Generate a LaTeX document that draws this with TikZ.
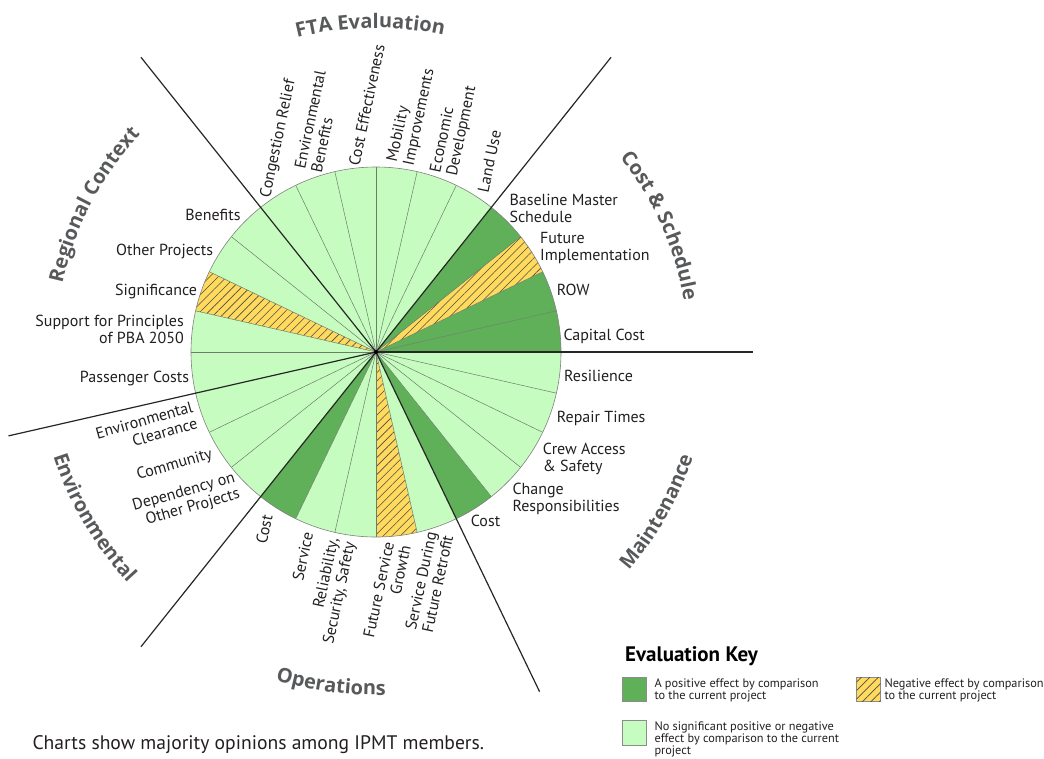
\documentclass[tikz,border=0pt]{standalone}
\usepackage{fontspec}
\setmainfont{PT Sans}
\newfontfamily\titlefam{Open Sans}
\usetikzlibrary{patterns.meta,decorations.text}
\definecolor{lightg}{RGB}{199,252,192}
\definecolor{darkg}{RGB}{95,176,89}
\definecolor{yellowc}{RGB}{255,218,92}
\definecolor{titlegray}{RGB}{88,89,91}
\definecolor{ink}{RGB}{35,31,32}
\definecolor{sepgray}{RGB}{105,125,105}
\newcommand\ttlfont{\titlefam\fontsize{20}{24}\selectfont\bfseries}
\begin{document}
\begin{tikzpicture}[x=1pt,y=1pt,
  wpos/.style={fill=darkg},
  wneu/.style={fill=lightg},
  wneg/.style={fill=yellowc,postaction={pattern={Lines[angle=45,distance=6pt,line width=0.6pt]},pattern color=black!70}},
  wsep/.style={draw=sepgray,line width=0.5pt},
  rim/.style={draw=black!50,line width=0.6pt},
  divider/.style={draw=black!85,line width=1.2pt},
  lab/.style={font=\fontsize{16}{17}\selectfont,text=ink,inner sep=0pt},
  labR/.style={lab,anchor=base west,align=left},
  labL/.style={lab,anchor=base east,align=right},
  ftalab/.style={lab,anchor=base west,align=left,rotate=78},
  opslab/.style={lab,anchor=base east,align=right,rotate=78},
  envlab/.style={lab,anchor=base east,align=right,rotate=16},
  grouptitle/.style={decorate,decoration={text along path,text align=center,text color=titlegray}},
  leg/.style={font=\fontsize{12.3}{11.8}\selectfont,text=ink,inner sep=0pt,align=left,anchor=base west},
  keybox/.style={draw=black!45,line width=0.5pt}
]
\useasboundingbox (0,0) rectangle (1044,-758);
\coordinate (C) at (376,-352);
\def\W{12.857142857}
% wedges
\foreach \s [count=\i from 0] in {wpos,wpos,wneg,wpos,wneu,wneu,wneu,wneu,wneu,wneu,wneu,wneu,wneg,wneu,wneu,wneu,wneu,wneu,wpos,wneu,wneu,wneg,wneu,wpos,wneu,wneu,wneu,wneu}{
  \path[\s] (C) -- ++({\i*\W}:185) arc[start angle={\i*\W},end angle={(\i+1)*\W},radius=185] -- cycle;
}
\foreach \i in {1,2,3,5,6,7,8,9,11,12,13,14,16,17,19,20,21,22,24,25,26,27}{
  \draw[wsep] (C) -- ++({\i*\W}:185);
}
\draw[rim] (C) circle[radius=185];
\foreach \i in {0,4,10,15,18,23}{
  \draw[divider] (C) -- ++({\i*\W}:377);
}
\fill[black] (C) circle[radius=2];
% group titles
\path[grouptitle,decoration={text={|\ttlfont|FTA Evaluation}}] (C) ++(121:324) arc[start angle=121,end angle=61,radius=324];
\path[grouptitle,decoration={text={|\ttlfont|Cost {\&} Schedule}}] (C) ++(54:312) arc[start angle=54,end angle=-6,radius=312];
\path[grouptitle,decoration={text={|\ttlfont|Regional Context}}] (C) ++(182.4:321) arc[start angle=182.4,end angle=122.4,radius=321];
\path[grouptitle,decoration={text={|\ttlfont|Maintenance}}] (C) ++(-59.6:334) arc[start angle=-59.6,end angle=0.4,radius=334];
\path[grouptitle,decoration={text={|\ttlfont|Operations}}] (C) ++(232.3:343) arc[start angle=232.3,end angle=292.3,radius=343];
\path[grouptitle,decoration={text={|\ttlfont|Environmental}}] (C) ++(180.4:339) arc[start angle=180.4,end angle=240.4,radius=339];
% Cost & Schedule labels
\node[labR] (bms) at (509.3,-222) {Baseline Master\\Schedule};
\node[labR] (fim) at (540,-260.3) {Future\\Implementation};
\node[labR] (row) at (556.7,-295.7) {ROW};
\node[labR] (cap) at (563.3,-340.7) {Capital Cost};
% Maintenance labels
\node[labR] (res) at (564,-381.7) {Resilience};
\node[labR] (rep) at (556.7,-422.7) {Repair Times};
\node[labR] (crew) at (542.7,-471.3) {Crew Access\\\& Safety};
\node[labR] (chg) at (512.3,-511) {Change\\Responsibilities};
\node[labR] (mcost) at (470.7,-526.7) {Cost};
% Regional Context labels
\node[labL] (ben) at (240.7,-220.7) {Benefits};
\node[labL] (oth) at (213.3,-255.7) {Other Projects};
\node[labL] (sig) at (197.3,-295) {Significance};
\node[labL] (pba) at (184,-343.7) {Support for Principles\\of PBA 2050};
\node[labL] (pax) at (189.3,-382.3) {Passenger Costs};
% Environmental labels
\node[envlab] (ecl) at (198.7,-428) {Environmental\\Clearance};
\node[envlab] (com) at (213.3,-458.3) {Community};
\node[envlab] (dep) at (240.7,-498) {Dependency on\\Other Projects};
% FTA labels
\node[ftalab] (cgr) at (270,-198.3) {Congestion Relief};
\node[ftalab] (enb) at (321.6,-173.5) {Environmental\\Benefits};
\node[ftalab] (cef) at (359.3,-166.7) {Cost Effectiveness};
\node[ftalab] (mob) at (413.3,-166.2) {Mobility\\Improvements};
\node[ftalab] (eco) at (456.6,-176.8) {Economic\\Development};
\node[ftalab] (lus) at (488.3,-193.3) {Land Use};
% Operations labels
\node[opslab] (ocost) at (272.7,-516) {Cost};
\node[opslab] (srv) at (313.3,-533.3) {Service};
\node[opslab] (rel) at (354.9,-542.8) {Reliability,\\Security, Safety};
\node[opslab] (fsg) at (410.9,-546.5) {Future Service\\Growth};
\node[opslab] (sdr) at (453.3,-536.5) {Service During\\Future Retrofit};
% key
\node[font=\fontsize{21}{25}\selectfont\bfseries,text=black,inner sep=0pt,anchor=base west] (keyt) at (625,-661.7) {Evaluation Key};
\path[keybox,fill=darkg] (622.3,-677.3) rectangle (646.7,-701.7);
\node[leg] (kpos) at (654.3,-699.3) {A positive effect by comparison\\to the current project};
\path[keybox,fill=lightg] (622.3,-720.7) rectangle (646.7,-745);
\node[leg] (kneu) at (654.3,-754) {No significant positive or negative\\effect by comparison to the current\\project};
\path[keybox,fill=yellowc,postaction={pattern={Lines[angle=45,distance=6pt,line width=0.6pt]},pattern color=black!70}] (856.7,-677.3) rectangle (880.7,-701.7);
\node[leg] (kneg) at (884.3,-699.3) {Negative effect by comparison\\to the current project};
% footnote
\node[font=\fontsize{19.6}{22}\selectfont,text=ink,inner sep=0pt,anchor=base west] (note) at (32.3,-749) {Charts show majority opinions among IPMT members.};
\end{tikzpicture}
\end{document}
